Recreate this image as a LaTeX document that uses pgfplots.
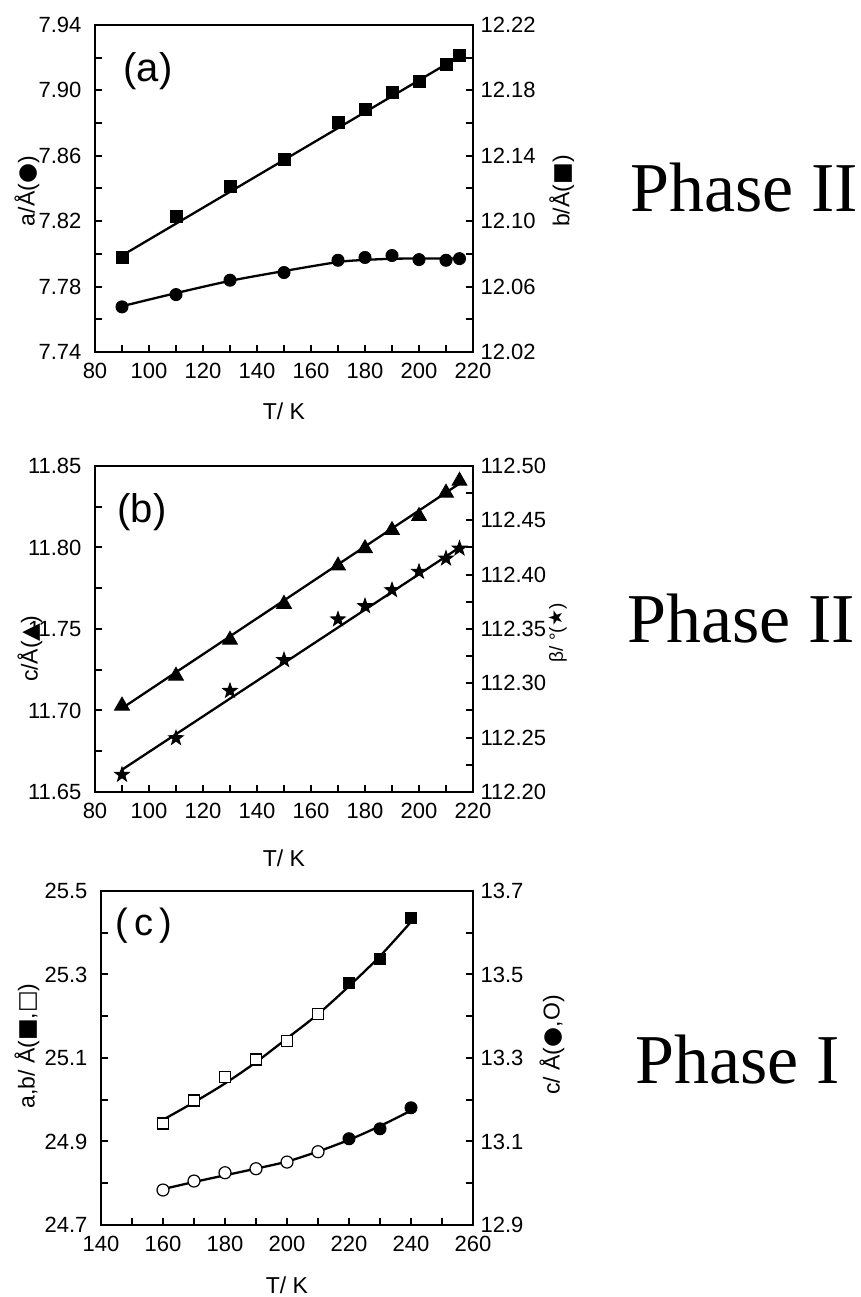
\documentclass[border=0pt]{standalone}
\usepackage{fontspec}
\setmainfont{Liberation Sans}
\newfontfamily\timesf{Liberation Serif}
\newfontfamily\sym{DejaVu Sans}
\usepackage{pgfplots}
\pgfplotsset{compat=1.18}

\pgfdeclareplotmark{fstar}{%
  \pgfpathmoveto{\pgfpointpolar{90}{\pgfplotmarksize}}%
  \pgfpathlineto{\pgfpointpolar{126}{0.4\pgfplotmarksize}}%
  \pgfpathlineto{\pgfpointpolar{162}{\pgfplotmarksize}}%
  \pgfpathlineto{\pgfpointpolar{198}{0.4\pgfplotmarksize}}%
  \pgfpathlineto{\pgfpointpolar{234}{\pgfplotmarksize}}%
  \pgfpathlineto{\pgfpointpolar{270}{0.4\pgfplotmarksize}}%
  \pgfpathlineto{\pgfpointpolar{306}{\pgfplotmarksize}}%
  \pgfpathlineto{\pgfpointpolar{342}{0.4\pgfplotmarksize}}%
  \pgfpathlineto{\pgfpointpolar{18}{\pgfplotmarksize}}%
  \pgfpathlineto{\pgfpointpolar{54}{0.4\pgfplotmarksize}}%
  \pgfpathclose
  \pgfusepathqfillstroke}

\pgfplotsset{
  panel/.style={
    scale only axis, anchor=south west,
    axis line style={line width=2pt},
    every tick/.style={line width=2pt, black},
    tick align=inside,
    major tick length=7pt, minor tick length=7pt,
    minor x tick num=1, minor y tick num=1,
    tick label style={font=\fontsize{22}{25}\selectfont},
    /pgf/number format/assume math mode=true,
    label style={font=\fontsize{23}{26}\selectfont},
    xlabel style={font=\fontsize{23}{26}\selectfont},
    clip=false,
  },
  leftax/.style={panel, tick pos=left,
    xticklabel style={yshift=-8pt},
    yticklabel style={xshift=-10pt}},
  rightax/.style={panel, axis x line=none, axis y line*=right, ytick pos=right,
    yticklabel style={xshift=4pt}},
  fitline/.style={black, line width=2.3pt, no marks},
  mk/.style={black, only marks, mark options={line width=1pt}},
}

\begin{document}
\begin{tikzpicture}
\useasboundingbox (0,0) rectangle (860pt,1297pt);

% ---------------- Panel (a) ----------------
\begin{axis}[leftax, at={(95pt,945pt)}, width=378pt, height=327pt,
  xmin=80, xmax=220, ymin=7.74, ymax=7.94,
  xtick={80,100,...,220},
  ytick={7.74,7.78,7.82,7.86,7.90,7.94},
  yticklabel style={/pgf/number format/.cd, fixed, fixed zerofill, precision=2},
  xlabel={T/ K},
  xlabel style={at={(axis description cs:0.5,-0.18)}, anchor=center},
  ylabel={a/Å({\sym ●})},
  ylabel style={at={(axis description cs:-0.18,0.492)}, anchor=center},
]
\addplot[fitline, smooth] coordinates {(90,7.7680) (110,7.7760) (130,7.7835) (150,7.7895) (170,7.7950) (180,7.7963) (190,7.7970) (200,7.7972) (210,7.7972) (215,7.7972)};
\addplot[mk, mark=*, mark size=6pt] coordinates {(90,7.7676) (110,7.7751) (130,7.7839) (150,7.7886) (170,7.7961) (180,7.7978) (190,7.7990) (200,7.7965) (210,7.7961) (215,7.7971)};
\end{axis}
\begin{axis}[rightax, at={(95pt,945pt)}, width=378pt, height=327pt,
  xmin=80, xmax=220, ymin=12.02, ymax=12.22,
  ytick={12.02,12.06,12.10,12.14,12.18,12.22},
  yticklabel style={/pgf/number format/.cd, fixed, fixed zerofill, precision=2},
  ylabel={b/Å({\sym ■})},
  ylabel style={at={(axis description cs:1.235,0.492)}, anchor=center},
]
\addplot[fitline] coordinates {(90,12.0790) (215,12.2008)};
\addplot[mk, mark=square*, mark size=6pt] coordinates {(90,12.0778) (110,12.1027) (130,12.1210) (150,12.1378) (170,12.1602) (180,12.1684) (190,12.1790) (200,12.1853) (210,12.1961) (215,12.2014)};
\end{axis}

% ---------------- Panel (b) ----------------
\begin{axis}[leftax, at={(95pt,505pt)}, width=378pt, height=326pt,
  xmin=80, xmax=220, ymin=11.65, ymax=11.85,
  xtick={80,100,...,220},
  ytick={11.65,11.70,11.75,11.80,11.85},
  yticklabel style={/pgf/number format/.cd, fixed, fixed zerofill, precision=2},
  xlabel={T/ K},
  xlabel style={at={(axis description cs:0.5,-0.202)}, anchor=center},
  ylabel={c/Å({\sym ▲})},
  ylabel style={at={(axis description cs:-0.172,0.439)}, anchor=center},
]
\addplot[fitline] coordinates {(90,11.7014) (215,11.8392)};
\addplot[mk, mark=triangle*, mark size=8.5pt] coordinates {(90,11.7029) (110,11.7212) (130,11.7433) (150,11.7653) (170,11.7888) (180,11.7994) (190,11.8106) (200,11.8192) (210,11.8335) (215,11.8408)};
\end{axis}
\begin{axis}[rightax, at={(95pt,505pt)}, width=378pt, height=326pt,
  xmin=80, xmax=220, ymin=112.20, ymax=112.50,
  ytick={112.20,112.25,112.30,112.35,112.40,112.45,112.50},
  yticklabel style={/pgf/number format/.cd, fixed, fixed zerofill, precision=2},
  ylabel={β/ °({\sym ★})},
  ylabel style={at={(axis description cs:1.225,0.488)}, anchor=center, font=\fontsize{19}{22}\selectfont},
]
\addplot[fitline] coordinates {(90,112.2205) (215,112.4250)};
\addplot[mk, mark=fstar, mark size=7.5pt] coordinates {(90,112.2159) (110,112.2496) (130,112.2931) (150,112.3215) (170,112.3589) (180,112.3711) (190,112.3858) (200,112.4027) (210,112.4149) (215,112.4241)};
\end{axis}

% ---------------- Panel (c) ----------------
\begin{axis}[leftax, at={(101pt,72pt)}, width=372pt, height=334pt,
  xmin=140, xmax=260, ymin=24.7, ymax=25.5,
  xtick={140,160,...,260},
  ytick={24.7,24.9,25.1,25.3,25.5},
  yticklabel style={/pgf/number format/.cd, fixed, fixed zerofill, precision=1},
  xlabel={T/ K},
  xlabel style={at={(axis description cs:0.5,-0.18)}, anchor=center},
  ylabel={a,b/ Å({\sym ■},{\sym □})},
  ylabel style={at={(axis description cs:-0.199,0.536)}, anchor=center},
]
\addplot[fitline, smooth] coordinates {(160,24.952) (170,24.994) (180,25.039) (190,25.090) (200,25.147) (210,25.205) (220,25.272) (230,25.344) (240,25.426)};
\addplot[mk, mark=square*, mark size=5.5pt, mark options={fill=white, line width=1.2pt}] coordinates {(160,24.9433) (170,24.9983) (180,25.0549) (190,25.0964) (200,25.1403) (210,25.2049)};
\addplot[mk, mark=square*, mark size=5.5pt] coordinates {(220,25.2799) (230,25.3381) (240,25.4362)};
\end{axis}
\begin{axis}[rightax, at={(101pt,72pt)}, width=372pt, height=334pt,
  xmin=140, xmax=260, ymin=12.9, ymax=13.7,
  ytick={12.9,13.1,13.3,13.5,13.7},
  yticklabel style={/pgf/number format/.cd, fixed, fixed zerofill, precision=1},
  ylabel={c/ Å({\sym ●},O)},
  ylabel style={at={(axis description cs:1.212,0.539)}, anchor=center},
]
\addplot[fitline, smooth] coordinates {(160,12.986) (170,13.003) (180,13.019) (190,13.035) (200,13.052) (210,13.076) (220,13.104) (230,13.137) (240,13.174)};
\addplot[mk, mark=*, mark size=6pt, mark options={fill=white, line width=1.2pt}] coordinates {(160,12.9838) (170,13.0053) (180,13.0252) (190,13.0348) (200,13.0507) (210,13.0755)};
\addplot[mk, mark=*, mark size=6pt] coordinates {(220,13.1066) (230,13.1305) (240,13.1808)};
\end{axis}

% panel letters
\node[font=\fontsize{40}{44}\selectfont] at (148pt,1226pt) {(a)};
\node[font=\fontsize{40}{44}\selectfont] at (142pt,785pt) {(b)};
\node[font=\fontsize{38}{42}\selectfont] at (144pt,371pt) {(\,c\,)};

% phase labels
\node[anchor=base west, font=\timesf\fontsize{70}{80}\selectfont, inner sep=0pt] at (630pt,1085pt) {Phase II};
\node[anchor=base west, font=\timesf\fontsize{70}{80}\selectfont, inner sep=0pt] at (627pt,654pt) {Phase II};
\node[anchor=base west, font=\timesf\fontsize{70}{80}\selectfont, inner sep=0pt] at (635pt,213pt) {Phase I};
\end{tikzpicture}
\end{document}
